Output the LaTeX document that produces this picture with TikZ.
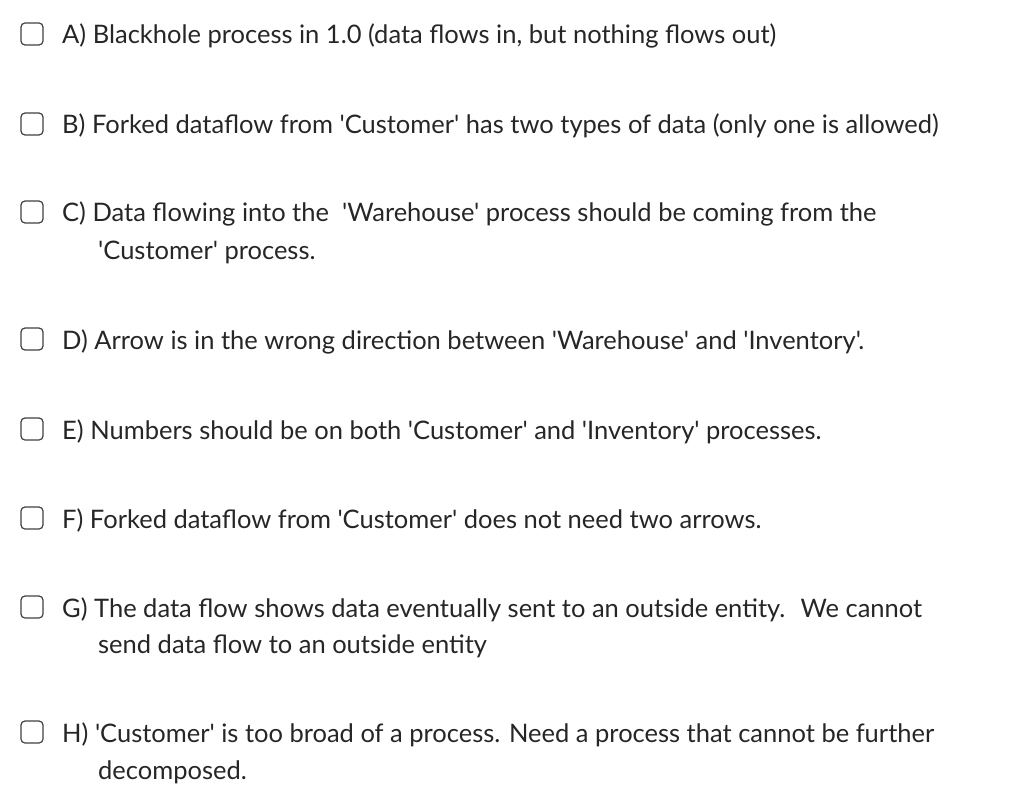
\documentclass[tikz,border=0pt]{standalone}
\usepackage{fontspec}
\setmainfont{Lato}[Ligatures=TeXOff]
\begin{document}
\begin{tikzpicture}[x=1pt,y=-1pt,
  box/.style={draw=black!75,line width=1.2pt,rounded corners=4pt,minimum size=22pt,inner sep=0pt},
  txt/.style={anchor=base west,inner sep=0pt,font=\fontsize{25.5}{30}\selectfont,text=black!85}]
\useasboundingbox (0,0) rectangle (1024,802);
\foreach \n/\y in {A/36,B/126,C/214,D/341,E/431,F/520,G/609,H/734}
  \node[box] (b\n) at (32,\y-2) {};
\node[txt] (tA) at (62,44) {A) Blackhole process in 1.0 (data flows in, but nothing flows out)};
\node[txt] (tB) at (62,134) {B) Forked dataflow from 'Customer' has two types of data (only one is allowed)};
\node[txt] (tC) at (62,222) {C) Data flowing into the \ 'Warehouse' process should be coming from the};
\node[txt] (tC2) at (98,259) {'Customer' process.};
\node[txt] (tD) at (62,349) {D) Arrow is in the wrong direction between 'Warehouse' and 'Inventory'.};
\node[txt] (tE) at (62,439) {E) Numbers should be on both 'Customer' and 'Inventory' processes.};
\node[txt] (tF) at (62,528) {F) Forked dataflow from 'Customer' does not need two arrows.};
\node[txt] (tG) at (62,617) {G) The data flow shows data eventually sent to an outside entity. \ We cannot};
\node[txt] (tG2) at (98,653) {send data flow to an outside entity};
\node[txt] (tH) at (62,742) {H) 'Customer' is too broad of a process. Need a process that cannot be further};
\node[txt] (tH2) at (98,779) {decomposed.};
\end{tikzpicture}
\end{document}
